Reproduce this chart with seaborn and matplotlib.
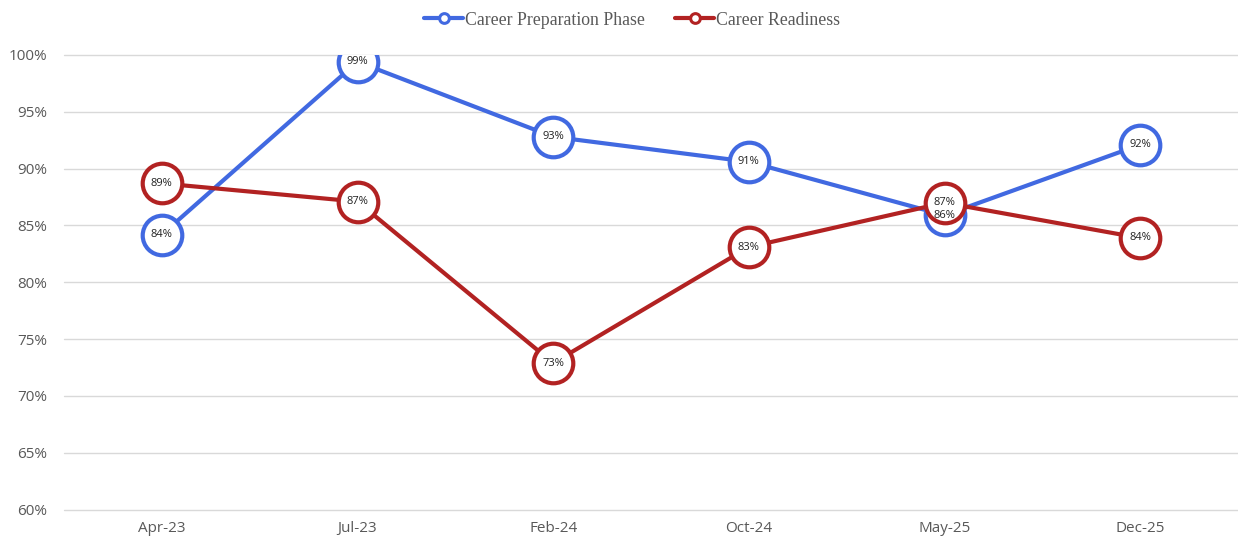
import matplotlib
matplotlib.use("Agg")
import matplotlib.pyplot as plt
import seaborn as sns
import pandas as pd
import numpy as np
from matplotlib.lines import Line2D

categories = ["Apr-23", "Jul-23", "Feb-24", "Oct-24", "May-25", "Dec-25"]
prep_phase = [84.2, 99.4, 92.8, 90.6, 85.9, 92.1]
readiness = [88.7, 87.1, 72.9, 83.1, 87.0, 83.9]
series_names = ["Career Preparation Phase", "Career Readiness"]
colors = ["#4169E1", "#B22222"]
yticks = [60, 65, 70, 75, 80, 85, 90, 95, 100]

sns.set_theme(style="white")
plt.rcParams['font.family'] = ['Open Sans', 'DejaVu Sans']

fig = plt.figure(figsize=(12.38, 5.44), dpi=100)
ax = fig.add_axes([0.0517, 0.0625, 0.9483, 0.8365])

df = pd.DataFrame({
    "x": list(range(len(categories))) * 2,
    "value": prep_phase + readiness,
    "series": [series_names[0]] * len(categories) + [series_names[1]] * len(categories),
})

for i, (name, col) in enumerate(zip(series_names, colors)):
    sub = df[df["series"] == name]
    sns.lineplot(data=sub, x="x", y="value", ax=ax, color=col, linewidth=3.0,
                 marker="o", markersize=28.5, markerfacecolor="white",
                 markeredgecolor=col, markeredgewidth=3.0, zorder=3 + i,
                 legend=False)
    for xv, yv in zip(sub["x"], sub["value"]):
        ax.text(xv, yv, f"{int(round(yv))}%", ha="center", va="center",
                fontsize=8, color="#222222", zorder=10 + i)

ax.set_xlim(-0.5, len(categories) - 0.5)
ax.set_ylim(59.97, 100)
ax.set_yticks(yticks)
ax.set_yticklabels([f"{t}%" for t in yticks])
ax.set_xticks(range(len(categories)))
ax.set_xticklabels(categories)
ax.set_xlabel("")
ax.set_ylabel("")
ax.grid(axis="y", color="#D9D9D9", linewidth=1.0)
for gl in ax.get_ygridlines():
    gl.set_clip_on(False)
ax.set_axisbelow(True)
for s in ax.spines.values():
    s.set_visible(False)
ax.tick_params(axis="both", length=0, labelsize=11, labelcolor="#595959")
ax.tick_params(axis="y", pad=12)
ax.tick_params(axis="x", pad=8)

handles = [Line2D([0], [0], color=c, linewidth=3, marker="o", markersize=7,
                  markerfacecolor="white", markeredgecolor=c, markeredgewidth=2.2)
           for c in colors]
leg = fig.legend(handles, series_names, loc="upper center", bbox_to_anchor=(0.5105, 1.008),
                 ncol=2, frameon=False, handlelength=2.2, handletextpad=0.1,
                 columnspacing=1.7,
                 prop={"family": "Liberation Serif", "size": 12.8})
for t in leg.get_texts():
    t.set_color("#595959")

fig.savefig("out.png", dpi=100)
